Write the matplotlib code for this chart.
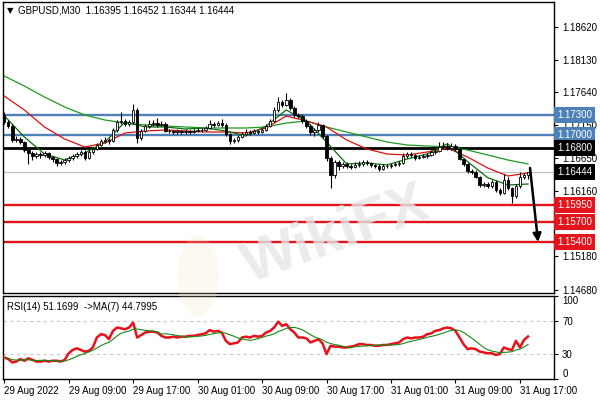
import numpy as np
import pandas as pd
import matplotlib
matplotlib.use("Agg")
import matplotlib.pyplot as plt
import matplotlib.transforms as mtransforms
from matplotlib.patches import Ellipse

# ---------------- data ----------------
first_open = 1.17300
closes = [1.17195, 1.17135, 1.16925, 1.16940, 1.16895, 1.16775, 1.16730, 1.16685, 1.16715, 1.16700,
          1.16730, 1.16670, 1.16640, 1.16580, 1.16595, 1.16625, 1.16655, 1.16685, 1.16715, 1.16745,
          1.16655, 1.16745, 1.16790, 1.16850, 1.16910, 1.16925, 1.16910, 1.17075, 1.17195, 1.17210,
          1.17165, 1.17195, 1.17375, 1.16955, 1.17060, 1.17135, 1.17165, 1.17180, 1.17150, 1.17165,
          1.17060, 1.17060, 1.17045, 1.17060, 1.17045, 1.17060, 1.17045, 1.17060, 1.17075, 1.17075,
          1.17105, 1.17165, 1.17150, 1.17180, 1.17150, 1.17015, 1.16910, 1.16925, 1.16970, 1.17015,
          1.17045, 1.17030, 1.17060, 1.17045, 1.17075, 1.17135, 1.17210, 1.17375, 1.17495, 1.17450,
          1.17525, 1.17405, 1.17300, 1.17285, 1.17210, 1.17135, 1.17045, 1.17075, 1.17150, 1.16985,
          1.16655, 1.16400, 1.16595, 1.16535, 1.16565, 1.16535, 1.16520, 1.16550, 1.16565, 1.16595,
          1.16580, 1.16550, 1.16535, 1.16490, 1.16535, 1.16535, 1.16550, 1.16565, 1.16580, 1.16685,
          1.16715, 1.16700, 1.16655, 1.16670, 1.16685, 1.16700, 1.16745, 1.16760, 1.16820, 1.16835,
          1.16805, 1.16835, 1.16790, 1.16640, 1.16565, 1.16460, 1.16445, 1.16370, 1.16250, 1.16265,
          1.16235, 1.16295, 1.16175, 1.16130, 1.16325, 1.16205, 1.16085, 1.16235, 1.16370, 1.16395,
          1.16444]
highs = [1.1734, 1.1722, 1.1716, 1.1698, 1.1697, 1.1691, 1.1679, 1.1676, 1.1675, 1.1674,
         1.1676, 1.1675, 1.1669, 1.1666, 1.1663, 1.1665, 1.1669, 1.1671, 1.1674, 1.1678,
         1.1677, 1.1678, 1.1682, 1.1688, 1.1694, 1.1697, 1.1695, 1.1710, 1.1722, 1.1734,
         1.1724, 1.1723, 1.1747, 1.1740, 1.1709, 1.1716, 1.1722, 1.1723, 1.1725, 1.1721,
         1.1719, 1.1709, 1.1708, 1.1709, 1.1708, 1.1709, 1.1708, 1.1709, 1.1711, 1.1711,
         1.1713, 1.1722, 1.1720, 1.1721, 1.1724, 1.1718, 1.1703, 1.1696, 1.1700, 1.1704,
         1.1709, 1.1707, 1.1709, 1.1708, 1.1711, 1.1716, 1.1724, 1.1742, 1.1757, 1.1753,
         1.1763, 1.1756, 1.1743, 1.1733, 1.1731, 1.1724, 1.1716, 1.1711, 1.1719, 1.1717,
         1.1700, 1.1668, 1.1663, 1.1663, 1.1660, 1.1659, 1.1657, 1.1659, 1.1661, 1.1663,
         1.1662, 1.1660, 1.1657, 1.1656, 1.1656, 1.1657, 1.1658, 1.1659, 1.1661, 1.1673,
         1.1675, 1.1674, 1.1672, 1.1670, 1.1671, 1.1673, 1.1678, 1.1679, 1.1689, 1.1690,
         1.1688, 1.1688, 1.1687, 1.1681, 1.1666, 1.1658, 1.1649, 1.1647, 1.1639, 1.1629,
         1.1630, 1.1633, 1.1632, 1.1620, 1.1642, 1.1637, 1.1622, 1.1626, 1.1644, 1.1643,
         1.16452]
lows = [1.1716, 1.1710, 1.1690, 1.1689, 1.1686, 1.1675, 1.1656, 1.1662, 1.1666, 1.1666,
        1.1667, 1.1664, 1.1660, 1.1653, 1.1655, 1.1657, 1.1660, 1.1663, 1.1665, 1.1669,
        1.1663, 1.1664, 1.1672, 1.1677, 1.1683, 1.1688, 1.1686, 1.1689, 1.1705, 1.1716,
        1.1714, 1.1713, 1.1717, 1.1688, 1.1693, 1.1704, 1.1711, 1.1714, 1.1712, 1.1713,
        1.1704, 1.1703, 1.1702, 1.1702, 1.1702, 1.1702, 1.1702, 1.1703, 1.1704, 1.1705,
        1.1706, 1.1709, 1.1712, 1.1713, 1.1712, 1.1699, 1.1686, 1.1688, 1.1690, 1.1695,
        1.1700, 1.1700, 1.1701, 1.1702, 1.1703, 1.1706, 1.1712, 1.1719, 1.1735, 1.1742,
        1.1743, 1.1738, 1.1727, 1.1725, 1.1718, 1.1710, 1.1700, 1.1699, 1.1705, 1.1696,
        1.1661, 1.1621, 1.1636, 1.1648, 1.1650, 1.1650, 1.1649, 1.1650, 1.1652, 1.1654,
        1.1655, 1.1652, 1.1650, 1.1646, 1.1647, 1.1651, 1.1651, 1.1653, 1.1654, 1.1656,
        1.1665, 1.1667, 1.1663, 1.1664, 1.1665, 1.1666, 1.1668, 1.1672, 1.1674, 1.1680,
        1.1678, 1.1677, 1.1676, 1.1662, 1.1654, 1.1643, 1.1641, 1.1635, 1.1622, 1.1622,
        1.1620, 1.1621, 1.1615, 1.1610, 1.1611, 1.1617, 1.1598, 1.1606, 1.1620, 1.1634,
        1.16344]

# moving averages on price, read every 5 bars
ma_idx = list(range(0, 131, 5))
ma_long = [1.17885, 1.17735, 1.17570, 1.17420, 1.17300, 1.17225, 1.17180, 1.17150, 1.17135, 1.17120,
           1.17105, 1.17105, 1.17105, 1.17120, 1.17180, 1.17210, 1.17120, 1.17045, 1.16970, 1.16895,
           1.16850, 1.16835, 1.16820, 1.16775, 1.16700, 1.16625, 1.16565]
ma_mid = [1.17585, 1.17375, 1.17120, 1.16940, 1.16820, 1.16880, 1.17030, 1.17060, 1.17075, 1.17060,
          1.17045, 1.17045, 1.17030, 1.17105, 1.17285, 1.17210, 1.17120, 1.16925, 1.16790, 1.16715,
          1.16700, 1.16745, 1.16805, 1.16670, 1.16505, 1.16385, 1.16430]
ma_short = [1.17290, 1.16970, 1.16715, 1.16625, 1.16730, 1.16895, 1.17195, 1.17120, 1.17120, 1.17090,
            1.17105, 1.17060, 1.16985, 1.17135, 1.17375, 1.17210, 1.16895, 1.16565, 1.16580, 1.16550,
            1.16640, 1.16715, 1.16870, 1.16600, 1.16360, 1.16250, 1.16265]

rsi = [26, 24, 20, 21, 24, 22, 25, 23, 21, 21, 22, 21, 22, 22, 21, 23,
       31, 35, 37, 35, 33, 34, 38, 50, 54, 53, 48, 58, 62, 61, 60, 62,
       68, 50, 53, 56, 57, 57, 56, 52, 50, 50, 51, 50, 51, 51, 52, 52,
       53, 54, 55, 59, 57, 58, 56, 46, 42, 43, 44, 50, 51, 50, 52, 51,
       52, 56, 58, 62, 69, 64, 66, 60, 56, 50, 50, 49, 44, 46, 48, 43,
       30, 40, 39, 39, 38, 38, 39, 40, 42, 42, 41, 41, 40, 40, 41, 41,
       42, 43, 44, 48, 50, 49, 50, 50, 51, 54, 55, 58, 59, 61, 62, 61,
       58, 50, 42, 36, 37, 36, 33, 32, 31, 31, 29, 30, 38, 36, 35, 46,
       38, 47, 51.17]

blue_levels = [1.17300, 1.17000]
black_levels = [1.16800]
red_levels = [1.15950, 1.15700, 1.15400]
last_price = 1.16444
arrow_start = (130.5, 1.16505)
arrow_end = (132.5, 1.15395)

price_ticks = [1.18620, 1.18130, 1.17640, 1.17150, 1.16650, 1.16160, 1.15670, 1.15180, 1.14680]
price_tick_labels = ["1.18620", "1.18130", "1.17640", "1.17150", "1.16650", "1.16160", "",
                     "1.15180", "1.14680"]
date_tick_idx = [0, 16, 32, 48, 64, 80, 96, 112, 128]
date_tick_labels = ["29 Aug 2022", "29 Aug 09:00", "29 Aug 17:00", "30 Aug 01:00", "30 Aug 09:00",
                    "30 Aug 17:00", "31 Aug 01:00", "31 Aug 09:00", "31 Aug 17:00"]
rsi_ticks = [0, 30, 70, 100]

header = "GBPUSD,M30  1.16395 1.16452 1.16344 1.16444"
rsi_header = "RSI(14) 51.1699  ->MA(7) 44.7995"

# ---------------- styling ----------------
plt.rcParams['font.family'] = ['Liberation Sans', 'DejaVu Sans']
FS = 7
BLUE = '#4f81b9'
RED = '#e3141b'

fig = plt.figure(figsize=(6, 4), dpi=100)
ax = fig.add_axes([0.005, 0.2675, 0.918, 0.7275])
axr = fig.add_axes([0.005, 0.0525, 0.918, 0.2075], sharex=ax)

n = len(closes)
idx = np.arange(n)
opens = [first_open] + closes[:-1]
o = np.array(opens); c = np.array(closes); h = np.array(highs); l = np.array(lows)

# watermark
fig.text(0.56, 0.41, "WikiFX", fontsize=42, fontweight='bold', color='#e6e6e6',
         rotation=20, ha='center', va='center', zorder=0.5, alpha=0.8)
fig.patches.append(Ellipse((0.33, 0.31), 0.07, 0.2, transform=fig.transFigure,
                           facecolor='#f7e3b8', edgecolor='none', alpha=0.2, zorder=0.4))
ax.set_facecolor('none')
axr.set_facecolor('none')

# level lines
ax.axhline(last_price, color='#c0c0c0', lw=0.8, zorder=1)
for lv in blue_levels:
    ax.axhline(lv, color=BLUE, lw=1.7, zorder=1)
for lv in black_levels:
    ax.axhline(lv, color='black', lw=2.0, zorder=1)
for lv in red_levels:
    ax.axhline(lv, color=RED, lw=1.7, zorder=1)

# moving averages
ax.plot(ma_idx, ma_long, color='#1e9a1e', lw=0.9, zorder=2)
ax.plot(ma_idx, ma_mid, color='#e01010', lw=0.9, zorder=2)
ax.plot(ma_idx, ma_short, color='#0a6e0a', lw=0.9, zorder=2)

# candles
ax.vlines(idx, l, h, color='black', lw=0.8, zorder=3)
bull = c >= o
body_bottom = np.minimum(o, c)
body_h = np.maximum(np.abs(c - o), 0.00002)
ax.bar(idx[bull], body_h[bull], bottom=body_bottom[bull], width=0.62,
       color='white', edgecolor='black', linewidth=0.6, zorder=4)
ax.bar(idx[~bull], body_h[~bull], bottom=body_bottom[~bull], width=0.62,
       color='black', edgecolor='black', linewidth=0.6, zorder=4)

# arrow
ax.annotate('', xy=arrow_end, xytext=arrow_start,
            arrowprops=dict(arrowstyle='-|>', color='black', lw=1.8, mutation_scale=12,
                            shrinkA=0, shrinkB=0), zorder=5)

ax.set_xlim(-0.3, 136.4)
ax.set_ylim(1.14630, 1.18995)
ax.yaxis.tick_right()
ax.set_yticks(price_ticks)
ax.set_yticklabels(price_tick_labels)
ax.tick_params(axis='y', length=3, width=0.8, labelsize=FS, pad=3, colors='black')
ax.tick_params(axis='x', bottom=False, labelbottom=False)

# level labels on the right
trans = mtransforms.blended_transform_factory(ax.transAxes, ax.transData)
def level_label(val, fc):
    ax.text(1.006, val, f"{val:.5f}", transform=trans, ha='left', va='center', fontsize=FS,
            color='white', clip_on=False, zorder=10,
            bbox=dict(boxstyle='square,pad=0.3', fc=fc, ec='none'))
for lv in blue_levels:
    level_label(lv, BLUE)
for lv in black_levels:
    level_label(lv, 'black')
level_label(last_price, 'black')
for lv in red_levels:
    level_label(lv, RED)

ax.text(0.008, 0.985, "\u25BC", transform=ax.transAxes, fontsize=6, va='top', ha='left',
        family='DejaVu Sans')
ax.text(0.028, 0.988, header, transform=ax.transAxes, fontsize=FS, va='top', ha='left')

for sp in ax.spines.values():
    sp.set_color('black'); sp.set_linewidth(1.0)

# RSI panel
rsi_ma = pd.Series(rsi).rolling(7, min_periods=1).mean()
axr.axhline(30, color='#c8c8c8', lw=0.8, ls=(0, (3, 3)))
axr.axhline(70, color='#c8c8c8', lw=0.8, ls=(0, (3, 3)))
axr.plot(idx, rsi, color='#e8101a', lw=1.8, zorder=3)
axr.plot(idx, rsi_ma, color='#168a16', lw=0.8, zorder=4)
axr.set_ylim(0, 100)
axr.yaxis.tick_right()
axr.set_yticks(rsi_ticks)
axr.set_yticklabels([str(t) for t in rsi_ticks])
axr.tick_params(axis='y', length=3, width=0.8, labelsize=FS, pad=3)
for lab, t in zip(axr.get_yticklabels(), rsi_ticks):
    if t == 100:
        lab.set_va('top')
    elif t == 0:
        lab.set_va('bottom')
axr.set_xticks(date_tick_idx)
axr.set_xticklabels(date_tick_labels)
axr.tick_params(axis='x', length=3, width=0.8, labelsize=FS, pad=2)
for lab in axr.get_xticklabels():
    lab.set_ha('left')
axr.text(0.008, 0.93, rsi_header, transform=axr.transAxes, fontsize=FS, va='top', ha='left')
for sp in axr.spines.values():
    sp.set_color('black'); sp.set_linewidth(1.0)

fig.savefig("out.png", dpi=100, facecolor='white')
